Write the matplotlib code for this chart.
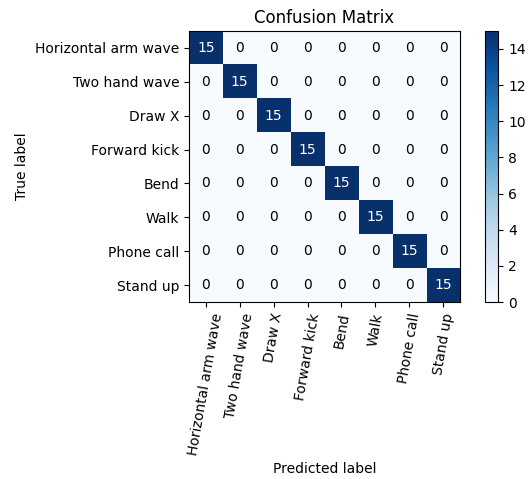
import numpy as np
import matplotlib
matplotlib.use("Agg")
import matplotlib.pyplot as plt

classes = ["Horizontal arm wave", "Two hand wave", "Draw X", "Forward kick",
           "Bend", "Walk", "Phone call", "Stand up"]
counts = [
    [15, 0, 0, 0, 0, 0, 0, 0],
    [0, 15, 0, 0, 0, 0, 0, 0],
    [0, 0, 15, 0, 0, 0, 0, 0],
    [0, 0, 0, 15, 0, 0, 0, 0],
    [0, 0, 0, 0, 15, 0, 0, 0],
    [0, 0, 0, 0, 0, 15, 0, 0],
    [0, 0, 0, 0, 0, 0, 15, 0],
    [0, 0, 0, 0, 0, 0, 0, 15],
]

cm = np.array(counts)
fig = plt.figure(figsize=(5.28, 4.79), dpi=100)
ax = fig.add_axes([0.356, 0.3695, 0.517, 0.566])
cax = fig.add_axes([0.9186, 0.3695, 0.025, 0.566])

im = ax.imshow(cm, interpolation="nearest", cmap=plt.cm.Blues)
ax.set_title("Confusion Matrix", fontsize=12)
fig.colorbar(im, cax=cax)

ticks = np.arange(len(classes))
ax.set_xticks(ticks)
ax.set_xticklabels(classes, rotation=80)
ax.set_yticks(ticks)
ax.set_yticklabels(classes)

thresh = cm.max() / 2.0
for i in range(cm.shape[0]):
    for j in range(cm.shape[1]):
        ax.text(j, i, format(cm[i, j], "d"), ha="center", va="center",
                color="white" if cm[i, j] > thresh else "black")

ax.set_ylabel("True label")
ax.set_xlabel("Predicted label")

fig.savefig("out.png", dpi=100)
